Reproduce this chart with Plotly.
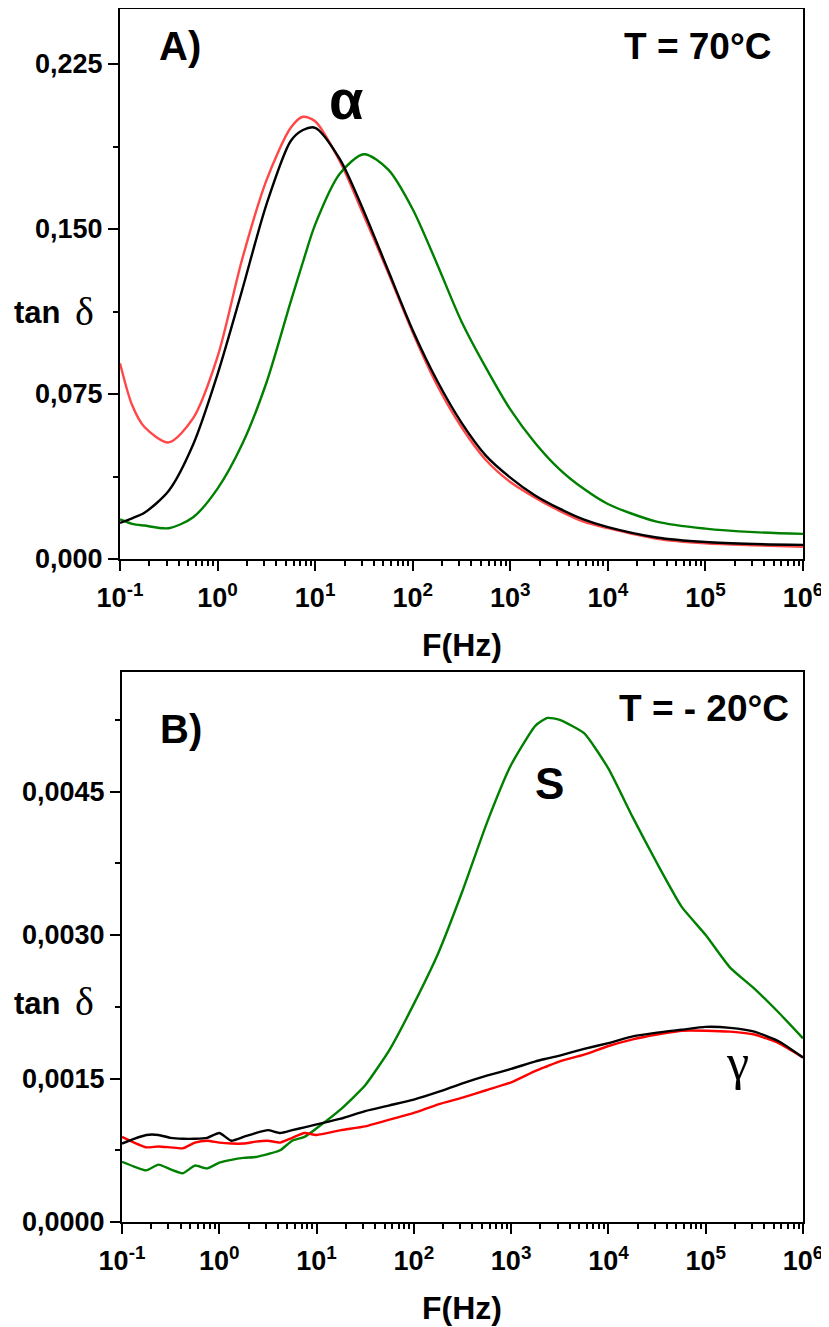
import plotly.graph_objects as go

# ---------------- data ----------------
# Panel A (T = 70 °C)
freq_A = [0.1, 0.133, 0.178, 0.316, 0.562, 1.0, 1.78, 3.16, 5.62, 7.5, 10, 17.8, 31.6, 56.2,
          100, 178, 316, 562, 1000, 1780, 3160, 5620, 1e4, 3.16e4, 1e5, 3.16e5, 1e6]
red_A = [0.089, 0.070, 0.060, 0.053, 0.064, 0.092, 0.136, 0.172, 0.196, 0.201, 0.199, 0.181, 0.156, 0.130,
         0.103, 0.079, 0.060, 0.045, 0.035, 0.028, 0.022, 0.017, 0.014, 0.0092, 0.0071, 0.0062, 0.0056]
black_A = [0.0164, 0.0185, 0.021, 0.031, 0.052, 0.084, 0.122, 0.161, 0.190, 0.195, 0.196, 0.182, 0.158, 0.131,
           0.104, 0.081, 0.062, 0.047, 0.037, 0.029, 0.023, 0.018, 0.0145, 0.0098, 0.0077, 0.0068, 0.0064]
green_A = [0.018, 0.016, 0.0152, 0.014, 0.019, 0.032, 0.052, 0.080, 0.117, 0.135, 0.152, 0.175, 0.184, 0.177,
           0.159, 0.134, 0.108, 0.087, 0.068, 0.053, 0.041, 0.032, 0.025, 0.017, 0.0138, 0.0122, 0.0114]

# Panel B (T = -20 °C)
freq_B = [0.1, 0.133, 0.178, 0.237, 0.316, 0.422, 0.562, 0.75, 1.0, 1.33, 1.78, 2.37, 3.16, 4.22, 5.62, 7.5,
          10, 17.8, 31.6, 56.2, 100, 178, 316, 562, 1000, 1780, 2370, 3160, 5620, 1e4, 1.78e4, 3.16e4,
          5.62e4, 1e5, 1.78e5, 3.16e5, 5.62e5, 1e6]
green_B = [0.00063, 0.00058, 0.00054, 0.00060, 0.00055, 0.00051, 0.00059, 0.00056, 0.00062, 0.00065, 0.00067,
           0.00068, 0.00071, 0.00075, 0.00085, 0.00089, 0.00098, 0.00118, 0.00143, 0.00180, 0.00228, 0.00281,
           0.00346, 0.00417, 0.00478, 0.00519, 0.00527, 0.00525, 0.00511, 0.00474, 0.00423, 0.00375, 0.00330,
           0.00300, 0.00266, 0.00244, 0.00219, 0.00192]
black_B = [0.00082, 0.00087, 0.00091, 0.00091, 0.00088, 0.00087, 0.00087, 0.00088, 0.00093, 0.00085, 0.00089,
           0.00093, 0.00096, 0.00093, 0.00096, 0.00099, 0.00102, 0.00108, 0.00116, 0.00122, 0.00128, 0.00136,
           0.00145, 0.00153, 0.00160, 0.00168, 0.00171, 0.00174, 0.00181, 0.00187, 0.00194, 0.00198, 0.00201,
           0.00204, 0.00203, 0.00199, 0.00189, 0.00172]
red_B = [0.00089, 0.00083, 0.00078, 0.00079, 0.00078, 0.00077, 0.00083, 0.00085, 0.00083, 0.00082, 0.00082,
         0.00084, 0.00085, 0.00083, 0.00088, 0.00093, 0.00091, 0.00096, 0.00100, 0.00107, 0.00114, 0.00123,
         0.00130, 0.00138, 0.00146, 0.00158, 0.00163, 0.00168, 0.00175, 0.00184, 0.00191, 0.00196, 0.00200,
         0.00200, 0.00199, 0.00196, 0.00187, 0.00172]

x_tickvals = [0.1, 1, 10, 100, 1000, 1e4, 1e5, 1e6]
x_ticktext = ["10<sup>-1</sup>", "10<sup>0</sup>", "10<sup>1</sup>", "10<sup>2</sup>",
              "10<sup>3</sup>", "10<sup>4</sup>", "10<sup>5</sup>", "10<sup>6</sup>"]
yA_tickvals = [0, 0.075, 0.15, 0.225]
yA_ticktext = ["0,000", "0,075", "0,150", "0,225"]
yB_tickvals = [0, 0.0015, 0.003, 0.0045]
yB_ticktext = ["0,0000", "0,0015", "0,0030", "0,0045"]

# ---------------- figure ----------------
OX, OY = 8, 8   # page offset of the plot div (body margin)
W, H = 829 - OX, 1327 - OY
RED_A = "#ff4747"
RED_B = "#ff0000"
GREEN = "#008000"
BLACK = "#000000"

fig = go.Figure()
lw = 2.4
spA = dict(shape="spline", smoothing=0.8)
spB = dict(shape="spline", smoothing=0.5)
fig.add_trace(go.Scatter(x=freq_A, y=red_A, mode="lines", line=dict(color=RED_A, width=lw, **spA), xaxis="x", yaxis="y"))
fig.add_trace(go.Scatter(x=freq_A, y=green_A, mode="lines", line=dict(color=GREEN, width=lw, **spA), xaxis="x", yaxis="y"))
fig.add_trace(go.Scatter(x=freq_A, y=black_A, mode="lines", line=dict(color=BLACK, width=lw, **spA), xaxis="x", yaxis="y"))

fig.add_trace(go.Scatter(x=freq_B, y=green_B, mode="lines", line=dict(color=GREEN, width=lw, **spB), xaxis="x2", yaxis="y2"))
fig.add_trace(go.Scatter(x=freq_B, y=red_B, mode="lines", line=dict(color=RED_B, width=lw, **spB), xaxis="x2", yaxis="y2"))
fig.add_trace(go.Scatter(x=freq_B, y=black_B, mode="lines", line=dict(color=BLACK, width=lw, **spB), xaxis="x2", yaxis="y2"))

minor_x = [k * 10.0 ** n for n in range(-1, 6) for k in range(2, 10)]

tickfont = dict(family="Arial, Liberation Sans", size=27, color="black", weight="bold")

def xaxis_cfg(domain, anchor):
    return dict(domain=domain, anchor=anchor, type="log", range=[-1, 6], automargin=False,
                showline=True, linewidth=2, linecolor="black", mirror=True,
                ticks="outside", ticklen=10, tickwidth=2, tickcolor="black",
                tickmode="array", tickvals=x_tickvals, ticktext=x_ticktext,
                minor=dict(tickmode="array", tickvals=minor_x, ticks="outside", ticklen=5, tickwidth=1.5, tickcolor="black"),
                showgrid=False, zeroline=False, tickfont=tickfont, ticklabelstandoff=4)

def yaxis_cfg(domain, anchor, rng, tv, tt, minor_vals):
    return dict(domain=domain, anchor=anchor, range=rng, automargin=False,
                showline=True, linewidth=2, linecolor="black", mirror=True,
                ticks="outside", ticklen=10, tickwidth=2, tickcolor="black",
                tickmode="array", tickvals=tv, ticktext=tt,
                minor=dict(tickmode="array", tickvals=minor_vals, ticks="outside", ticklen=5, tickwidth=1.5, tickcolor="black"),
                showgrid=False, zeroline=False, tickfont=tickfont, ticklabelstandoff=0)

def px(x):
    return (x - OX) / W

def py(y):
    return 1 - (y - OY) / H

fig.update_layout(
    width=W, height=H, margin=dict(l=0, r=0, t=0, b=0, autoexpand=False),
    paper_bgcolor="white", plot_bgcolor="white", showlegend=False,
    xaxis=xaxis_cfg([px(120), px(803)], "y"),
    yaxis=yaxis_cfg([py(559), py(9)], "x", [0, 0.25], yA_tickvals, yA_ticktext, [0.0375, 0.1125, 0.1875]),
    xaxis2=xaxis_cfg([px(122), px(803)], "y2"),
    yaxis2=yaxis_cfg([py(1222), py(672)], "x2", [0, 0.00575], yB_tickvals, yB_ticktext, [0.00075, 0.00225, 0.00375, 0.00525]),
)

def ann(text, x, y, size, family="Arial, Liberation Sans", weight="bold", xanchor="center"):
    fig.add_annotation(text=text, x=px(x), y=py(y), xref="paper", yref="paper",
                       showarrow=False, xanchor=xanchor, yanchor="middle",
                       font=dict(family=family, size=size, color="black", weight=weight))

serif = "Liberation Serif, Times New Roman, serif"
# Panel A texts
ann("A)", 180, 46, 40)
ann("T = 70°C", 697, 46, 37)
ann("α", 346, 100, 56)
ann("tan", 63, 313, 31, xanchor="right")
ann("δ", 84, 311, 40, family=serif, weight="normal")
ann("F(Hz)", 462, 645, 32)
# Panel B texts
ann("B)", 181, 729, 40)
ann("T = - 20°C", 704, 708, 37)
ann("S", 549, 783, 44)
ann("γ", 737, 1062, 50, family=serif, weight="normal")
ann("tan", 63, 1003, 31, xanchor="right")
ann("δ", 84, 1001, 40, family=serif, weight="normal")
ann("F(Hz)", 462, 1308, 32)

fig.write_html("out.html")
